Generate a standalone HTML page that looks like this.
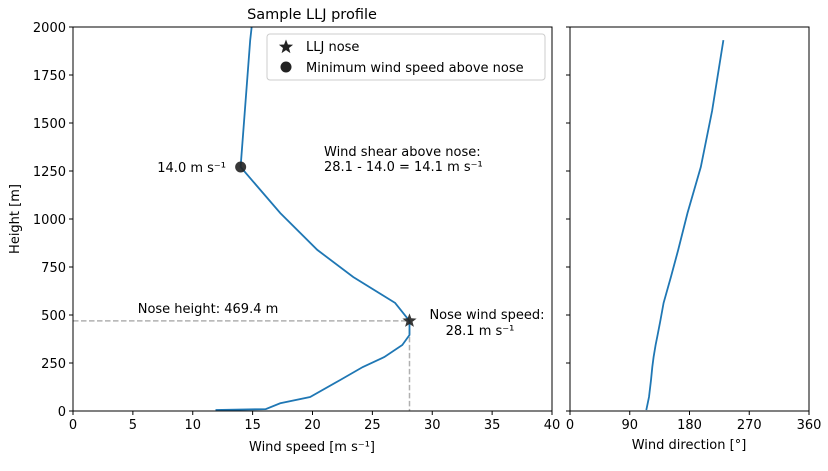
<!DOCTYPE html>
<html><head><meta charset="utf-8"><style>
body{margin:0;background:#fff}
svg text{font-family:"DejaVu Sans","Liberation Sans",sans-serif;font-size:13px;fill:#000}
</style></head><body>
<svg id="chart" width="828" height="466" viewBox="0 0 828 466" xmlns="http://www.w3.org/2000/svg">
<defs><clipPath id="cl"><rect x="73" y="27" width="479" height="384"/></clipPath></defs>
<g id="main"></g>
</svg>
<script>
const heights=[5,10,40,73,161,229,281,344,396,469.4,563,698,839,1031,1271,1932,2100];
const speeds=[11.9,16.1,17.3,19.8,22.3,24.2,26.0,27.5,28.1,28.1,26.9,23.4,20.4,17.3,14.0,14.8,15.1];
const dirHeights=[5,40,73,161,229,281,344,396,469,563,698,839,1031,1271,1563,1932];
const directions=[115,117,119,122,124,126,129,132,136,141,152,163,177,197,214,231];
const speedTicks=[0,5,10,15,20,25,30,35,40];
const heightTicks=[0,250,500,750,1000,1250,1500,1750,2000];
const dirTicks=[0,90,180,270,360];
const noseSpeed=28.1, noseHeight=469.4, minSpeed=14.0, minHeight=1271;

const NS='http://www.w3.org/2000/svg';
const g=document.getElementById('main');
const L={x0:73,x1:552,y0:411,y1:27};
const R={x0:570,x1:809};
const xs=v=>L.x0+v/40*(L.x1-L.x0);
const xd=v=>R.x0+v/360*(R.x1-R.x0);
const ys=v=>L.y0-v/2000*(L.y0-L.y1);
function el(t,a,p){const e=document.createElementNS(NS,t);for(const k in a)e.setAttribute(k,a[k]);(p||g).appendChild(e);return e;}
function txt(s,x,y,anchor,name){const e=el('text',{x:x,y:y,'text-anchor':anchor||'start'});e.textContent=s;


return e;}

let d1=el('line',{x1:L.x0,y1:ys(noseHeight),x2:xs(noseSpeed),y2:ys(noseHeight),stroke:'#b0b0b0','stroke-width':1.5,'stroke-dasharray':'5.5,2.5'});


let d2=el('line',{x1:xs(noseSpeed),y1:ys(noseHeight),x2:xs(noseSpeed),y2:L.y0,stroke:'#b0b0b0','stroke-width':1.5,'stroke-dasharray':'5.5,2.5'});



let p=speeds.map((s,i)=>(i?'L':'M')+xs(s).toFixed(1)+','+ys(heights[i]).toFixed(1)).join('');
let sl=el('path',{d:p,fill:'none',stroke:'#1f77b4','stroke-width':1.8,'clip-path':'url(#cl)'});


let p2=directions.map((s,i)=>(i?'L':'M')+xd(s).toFixed(1)+','+ys(dirHeights[i]).toFixed(1)).join('');
let dl=el('path',{d:p2,fill:'none',stroke:'#1f77b4','stroke-width':1.8});



function star(cx,cy,r){let pts=[];for(let i=0;i<10;i++){const rr=i%2?r*0.42:r;const a=-Math.PI/2+i*Math.PI/5;pts.push((cx+rr*Math.cos(a)).toFixed(1)+','+(cy+rr*Math.sin(a)).toFixed(1));}return pts.join(' ');}
let ns=el('polygon',{points:star(xs(noseSpeed),ys(noseHeight),7.5),fill:'#222','fill-opacity':0.9});


let mc=el('circle',{cx:xs(minSpeed),cy:ys(minHeight),r:5.5,fill:'#222','fill-opacity':0.9});



let f1=el('rect',{x:L.x0,y:L.y1,width:L.x1-L.x0,height:L.y0-L.y1,fill:'none',stroke:'#000','stroke-width':1});


let f2=el('rect',{x:R.x0,y:L.y1,width:R.x1-R.x0,height:L.y0-L.y1,fill:'none',stroke:'#000','stroke-width':1});



speedTicks.forEach(v=>{el('line',{x1:xs(v),x2:xs(v),y1:L.y0,y2:L.y0+4,stroke:'#000'});txt(String(v),xs(v),L.y0+18,'middle','x-tick-label');});
dirTicks.forEach(v=>{el('line',{x1:xd(v),x2:xd(v),y1:L.y0,y2:L.y0+4,stroke:'#000'});txt(String(v),xd(v),L.y0+18,'middle','dir-tick-label');});
heightTicks.forEach(v=>{el('line',{x1:L.x0-4,x2:L.x0,y1:ys(v),y2:ys(v),stroke:'#000'});el('line',{x1:R.x0-4,x2:R.x0,y1:ys(v),y2:ys(v),stroke:'#000'});txt(String(v),L.x0-7,ys(v)+5,'end','y-tick-label');});

txt('Sample LLJ profile',312,19,'middle','chart-title').style.fontSize='14.5px';
txt('Wind speed [m s⁻¹]',312,451,'middle','x-axis-title');
txt('Wind direction [°]',689,449,'middle','dir-axis-title');
let yt=txt('Height [m]',19,219,'middle','y-axis-title');yt.setAttribute('transform','rotate(-90 19 219)');
txt('14.0 m s⁻¹',226,172,'end','min-speed-label');
txt('Wind shear above nose:',324,156,'start','shear-label-1');
txt('28.1 - 14.0 = 14.1 m s⁻¹',324,171,'start','shear-label-2');
txt('Nose height: 469.4 m',208,313,'middle','nose-height-label');
txt('Nose wind speed:',487,319,'middle','nose-speed-label-1');
txt('28.1 m s⁻¹',480,335,'middle','nose-speed-label-2');

let lg=el('rect',{x:267,y:34,width:278,height:46,rx:3,fill:'#fff',stroke:'#ccc','fill-opacity':0.8});


el('polygon',{points:star(286,47,7.5),fill:'#222'});
el('circle',{cx:286,cy:67,r:5.5,fill:'#222'});
txt('LLJ nose',306,51,'start','legend-entry-nose');
txt('Minimum wind speed above nose',306,72,'start','legend-entry-minimum');
</script>
</body></html>
